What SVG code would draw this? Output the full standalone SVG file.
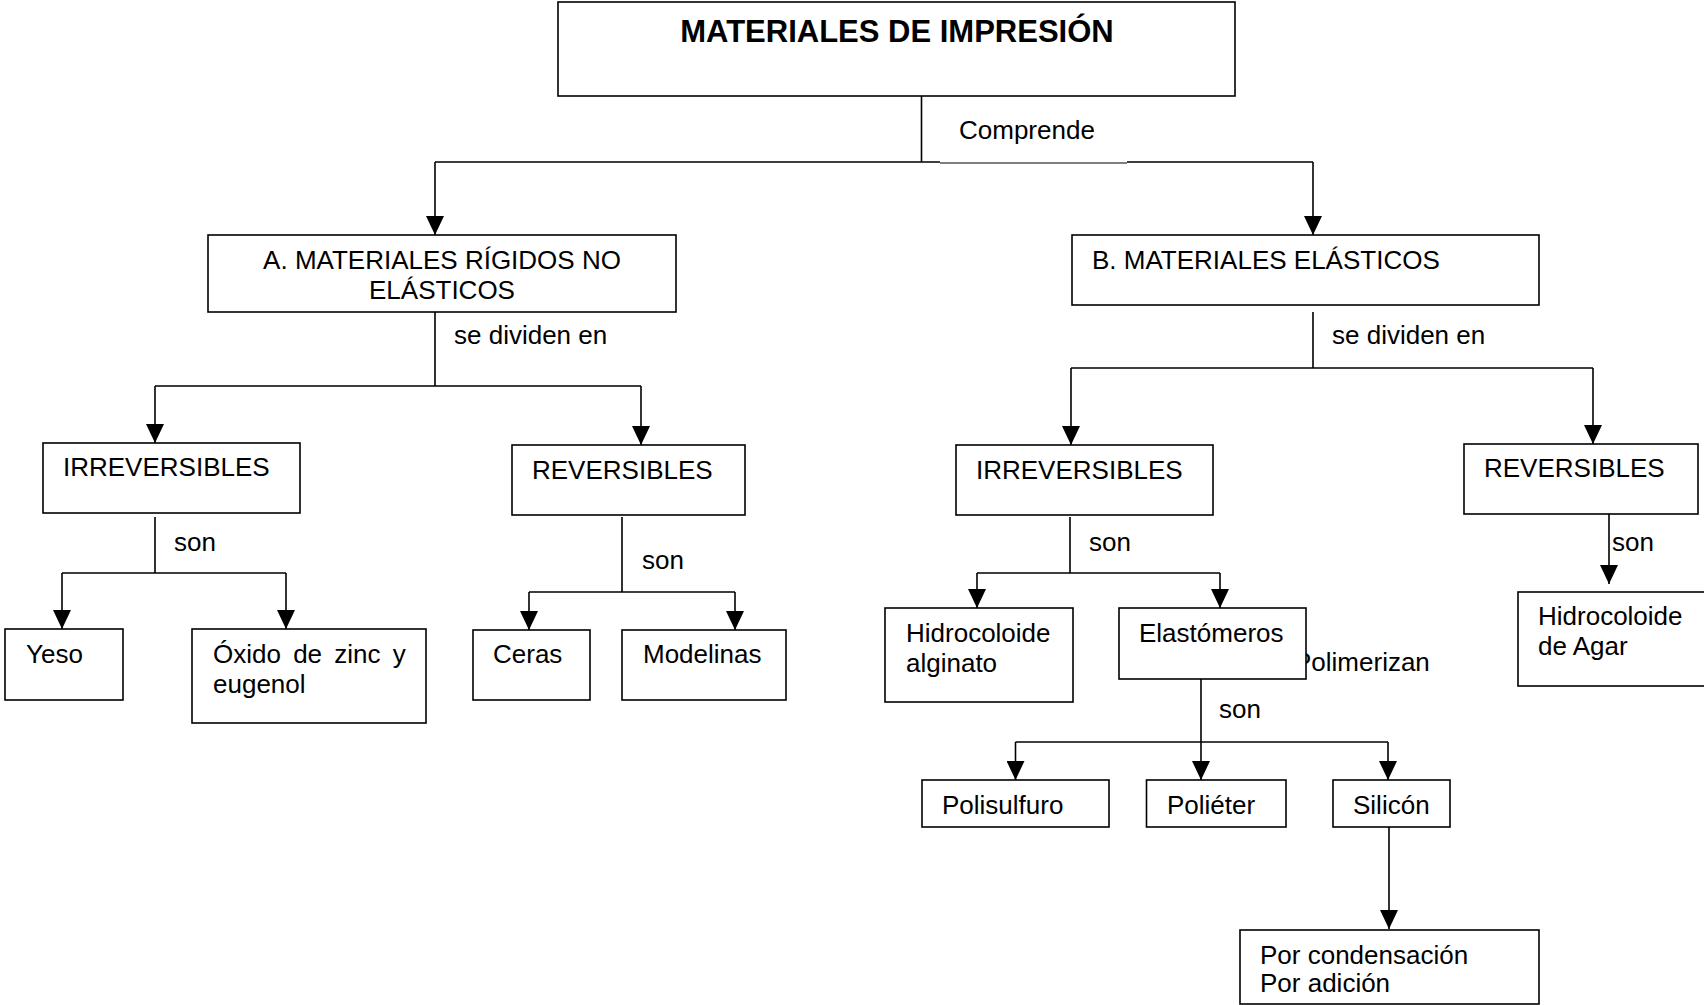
<svg xmlns="http://www.w3.org/2000/svg" width="1704" height="1005" viewBox="0 0 1704 1005">
<style>
.box{fill:#fff;stroke:#000;stroke-width:1.6}
.t{font-family:"Liberation Sans",Arial,sans-serif;font-size:26px;fill:#000}
.tb{font-family:"Liberation Sans",Arial,sans-serif;font-size:31px;font-weight:bold;fill:#000}
.c{fill:none;stroke:#000;stroke-width:1.6}
.ca{fill:none;stroke:#000;stroke-width:1.6;marker-end:url(#ah)}
</style>
<defs>
<marker id="ah" markerUnits="userSpaceOnUse" viewBox="0 0 19 18" refX="19" refY="9" markerWidth="19" markerHeight="18" orient="auto">
<path d="M0,0 L19,9 L0,18 z" fill="#000"/>
</marker>
</defs>
<rect width="1704" height="1005" fill="#fff"/>
<g id="connectors">
<path class="c" d="M921.5,96 V162 M435,162 H940 M1127,162 H1313"/>
<path d="M940,163 H1127" fill="none" stroke="#000" stroke-width="1"/>
<path class="ca" d="M435,162 V235"/>
<path class="ca" d="M1313,162 V235"/>
<path class="c" d="M435,312 V386 M155,386 H641"/>
<path class="ca" d="M155,386 V443"/>
<path class="ca" d="M641,386 V445"/>
<path class="c" d="M1313,312 V368 M1071,368 H1593"/>
<path class="ca" d="M1071,368 V445"/>
<path class="ca" d="M1593,368 V444"/>
<path class="c" d="M155,517 V573 M62,573 H286"/>
<path class="ca" d="M62,573 V629"/>
<path class="ca" d="M286,573 V629"/>
<path class="c" d="M622,517 V592 M529,592 H735"/>
<path class="ca" d="M529,592 V630"/>
<path class="ca" d="M735,592 V630"/>
<path class="c" d="M1070,517 V573 M977,573 H1220"/>
<path class="ca" d="M977,573 V608"/>
<path class="ca" d="M1220,573 V608"/>
<path class="ca" d="M1609,514 V584"/>
<path class="c" d="M1015.5,742 H1388"/>
<path class="ca" d="M1201,679 V780"/>
<path class="ca" d="M1015.5,742 V780"/>
<path class="ca" d="M1388,742 V780"/>
<path class="ca" d="M1389,827 V929"/>
</g>
<g id="labels">
<text class="t" x="959" y="139">Comprende</text>
<text class="t" x="454" y="344">se dividen en</text>
<text class="t" x="1332" y="344">se dividen en</text>
<text class="t" x="174" y="551">son</text>
<text class="t" x="642" y="569">son</text>
<text class="t" x="1089" y="551">son</text>
<text class="t" x="1612" y="551">son</text>
<text class="t" x="1219" y="718">son</text>
<text class="t" x="1294" y="671">Polimerizan</text>
</g>
<g id="n-title"><rect class="box" x="558" y="2" width="677" height="94"/><text class="tb" x="897" y="42" text-anchor="middle">MATERIALES DE IMPRESIÓN</text></g>
<g id="n-a"><rect class="box" x="208" y="235" width="468" height="77"/><text class="t" x="442" y="269" text-anchor="middle">A. MATERIALES RÍGIDOS NO</text><text class="t" x="442" y="299" text-anchor="middle">ELÁSTICOS</text></g>
<g id="n-b"><rect class="box" x="1072" y="235" width="467" height="70"/><text class="t" x="1092" y="269">B. MATERIALES ELÁSTICOS</text></g>
<g id="n-a-irrev"><rect class="box" x="43" y="443" width="257" height="70"/><text class="t" x="63" y="476">IRREVERSIBLES</text></g>
<g id="n-a-rev"><rect class="box" x="512" y="445" width="233" height="70"/><text class="t" x="532" y="479">REVERSIBLES</text></g>
<g id="n-b-irrev"><rect class="box" x="956" y="445" width="257" height="70"/><text class="t" x="976" y="479">IRREVERSIBLES</text></g>
<g id="n-b-rev"><rect class="box" x="1464" y="444" width="234" height="70"/><text class="t" x="1484" y="477">REVERSIBLES</text></g>
<g id="n-yeso"><rect class="box" x="5" y="629" width="118" height="71"/><text class="t" x="26" y="663">Yeso</text></g>
<g id="n-oxido"><rect class="box" x="192" y="629" width="234" height="94"/><text class="t" x="213" y="663" word-spacing="5">Óxido de zinc y</text><text class="t" x="213" y="693">eugenol</text></g>
<g id="n-ceras"><rect class="box" x="473" y="630" width="117" height="70"/><text class="t" x="493" y="663">Ceras</text></g>
<g id="n-modelinas"><rect class="box" x="622" y="630" width="164" height="70"/><text class="t" x="643" y="663">Modelinas</text></g>
<g id="n-alginato"><rect class="box" x="885" y="608" width="188" height="94"/><text class="t" x="906" y="642">Hidrocoloide</text><text class="t" x="906" y="672">alginato</text></g>
<g id="n-elastomeros"><rect class="box" x="1119" y="608" width="187" height="71"/><text class="t" x="1139" y="642">Elastómeros</text></g>
<g id="n-agar"><rect class="box" x="1518" y="592" width="200" height="94"/><text class="t" x="1538" y="625">Hidrocoloide</text><text class="t" x="1538" y="655">de Agar</text></g>
<g id="n-polisulfuro"><rect class="box" x="922" y="780" width="187" height="47"/><text class="t" x="942" y="814">Polisulfuro</text></g>
<g id="n-polieter"><rect class="box" x="1146.5" y="780" width="139.5" height="47"/><text class="t" x="1167" y="814">Poliéter</text></g>
<g id="n-silicon"><rect class="box" x="1333" y="780" width="117" height="47"/><text class="t" x="1353" y="814">Silicón</text></g>
<g id="n-por"><rect class="box" x="1240" y="930" width="299" height="74"/><text class="t" x="1260" y="964">Por condensación</text><text class="t" x="1260" y="992">Por adición</text></g>
</svg>
